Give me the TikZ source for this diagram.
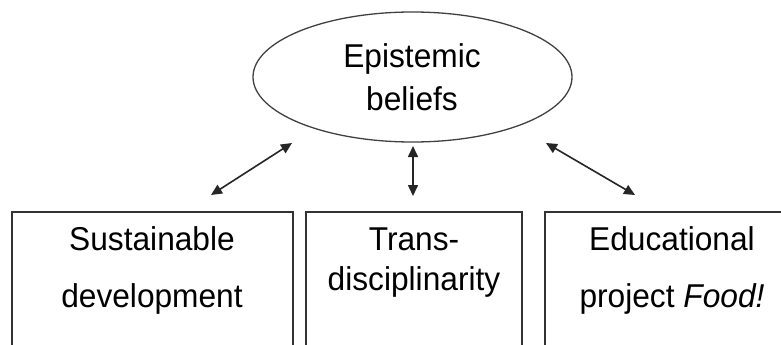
\documentclass[tikz,border=0pt]{standalone}
\usepackage{fontspec}
\setmainfont{Liberation Sans}[FakeStretch=0.96]
\usetikzlibrary{arrows.meta,shapes.geometric}
\begin{document}
\begin{tikzpicture}[x=1pt,y=-1pt,
  boxstyle/.style={draw=black!80,line width=1.3pt},
  lbl/.style={align=center,anchor=base,inner sep=0pt},
  conn/.style={line width=1.6pt,draw=black!85,{Triangle[length=11pt,width=10pt]}-{Triangle[length=11pt,width=10pt]}}]
\useasboundingbox (0,0) rectangle (781,345);
\clip (0,0) rectangle (781,345);
\node[ellipse,draw=black!75,line width=1.3pt,minimum width=319pt,minimum height=130pt,inner sep=0pt] (eb) at (412.5,77) {};
\node[lbl,font=\fontsize{33}{43}\selectfont] (ebt) at (412,110) {Epistemic\\beliefs};
\draw[boxstyle] (12,212) rectangle (293,360);
\draw[boxstyle] (306,212) rectangle (522,360);
\draw[boxstyle] (545,212) rectangle (800,360);
\node[lbl,font=\fontsize{33}{57}\selectfont] (sd) at (152,307) {Sustainable\\development};
\node[lbl,font=\fontsize{33}{40}\selectfont] (td) at (414,290) {Trans-\\disciplinarity};
\node[lbl,font=\fontsize{33}{57}\selectfont] (ef) at (672,307) {Educational\\project \textit{Food!}};
\coordinate (l1) at (292,143); \coordinate (l2) at (211,195);
\coordinate (m1) at (413,146); \coordinate (m2) at (413,196);
\coordinate (r1) at (546,143); \coordinate (r2) at (635,195);
\draw[conn] (l1) -- (l2);
\draw[conn] (m1) -- (m2);
\draw[conn] (r1) -- (r2);
\end{tikzpicture}
\end{document}
